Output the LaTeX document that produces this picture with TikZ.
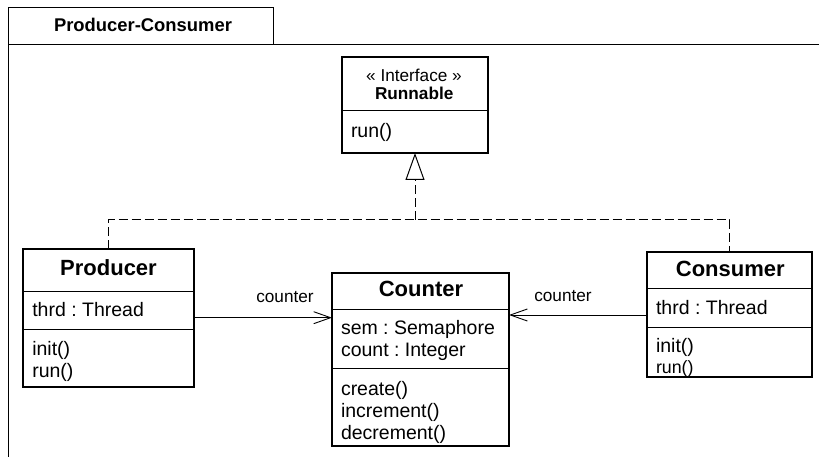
\documentclass[tikz,border=0pt]{standalone}
\usepackage{fontspec}
\setmainfont{Liberation Sans}
\usetikzlibrary{arrows.meta}
\frenchspacing
\tikzset{
  cls/.style={draw, line width=1.2pt, inner sep=0pt, outer sep=0pt},
  divider/.style={line width=1pt},
  frameline/.style={line width=1pt},
  txt/.style={inner sep=0pt, outer sep=0pt, anchor=base west, font=\fontsize{19.5}{22}\selectfont},
  ttl/.style={inner sep=0pt, outer sep=0pt, anchor=base, font=\fontsize{22}{26}\selectfont\bfseries},
  small/.style={inner sep=0pt, outer sep=0pt, font=\fontsize{17.2}{20}\selectfont},
  assoc/.style={line width=0.9pt, -{Straight Barb[length=17pt,width=12pt,line width=0.9pt]}},
  realize/.style={line width=1pt, dash pattern=on 9pt off 4pt},
}
\begin{document}
\begin{tikzpicture}[x=1pt,y=-1pt]
\useasboundingbox (0,0) rectangle (819,457);
% frame
\node[draw, line width=1pt, minimum width=265pt, minimum height=37pt, inner sep=0pt, outer sep=0pt] (tab) at (140.5,26.5) {};
\node[inner sep=0pt, anchor=base, font=\fontsize{18.4}{22}\selectfont\bfseries] (tabtxt) at (143,31.7) {Producer-Consumer};
\coordinate (frameR) at (819,45);
\coordinate (frameB) at (8,457);
\draw[frameline] (tab.south west) -- (frameB);
\draw[frameline] (tab.south east) -- (frameR);

% Runnable
\node[cls, minimum width=146pt, minimum height=96pt] (run) at (415,105) {};
\draw[divider] (run.west |- 0,111) -- (run.east |- 0,111);
\node[small, anchor=base] (runst) at (414,81.7) {« Interface »};
\node[small, anchor=base, font=\fontsize{17.2}{20}\selectfont\bfseries] (runname) at (414.2,100) {Runnable};
\node[txt] (runop) at (351,138) {run()};

% Producer
\node[cls, minimum width=171pt, minimum height=138pt] (prod) at (108.5,318) {};
\draw[divider] (prod.west |- 0,291) -- (prod.east |- 0,291);
\draw[divider] (prod.west |- 0,329) -- (prod.east |- 0,329);
\node[ttl] (prodname) at (108.5,275.7) {Producer};
\node[txt] (prodattr) at (32.3,316) {thrd : Thread};
\node[txt] (prodop1) at (32.3,355) {init()};
\node[txt] (prodop2) at (32.3,377) {run()};

% Counter
\node[cls, minimum width=177pt, minimum height=173pt] (cnt) at (420.5,359.5) {};
\draw[divider] (cnt.west |- 0,309) -- (cnt.east |- 0,309);
\draw[divider] (cnt.west |- 0,368) -- (cnt.east |- 0,368);
\node[ttl] (cntname) at (421,296.7) {Counter};
\node[txt] (cntattr1) at (341,334) {sem : Semaphore};
\node[txt] (cntattr2) at (341,356.7) {count : Integer};
\node[txt] (cntop1) at (341,395) {create()};
\node[txt] (cntop2) at (341,417.3) {increment()};
\node[txt] (cntop3) at (341,439.3) {decrement()};

% Consumer
\node[cls, minimum width=165pt, minimum height=125pt] (cons) at (729.5,314.5) {};
\draw[divider] (cons.west |- 0,288) -- (cons.east |- 0,288);
\draw[divider] (cons.west |- 0,327) -- (cons.east |- 0,327);
\node[ttl] (consname) at (730.3,276) {Consumer};
\node[txt] (consattr) at (656,314.3) {thrd : Thread};
\node[txt] (consop1) at (656,352) {init()};
\node[txt, font=\fontsize{17.8}{20}\selectfont] (consop2) at (656,373) {run()};

% realization
\coordinate (bus) at (0,220);
\draw[realize] (prod.north) -- (prod.north |- bus) -- (cons.north |- bus) -- (cons.north);
\draw[realize, -{Triangle[open, length=27pt, width=19pt, line width=1pt]}] (run.south |- bus) -- (run.south);

% associations
\coordinate (la) at (0,317.7);
\coordinate (ra) at (0,315);
\draw[assoc] (prod.east |- la) -- (cnt.west |- la);
\draw[assoc] (cons.west |- ra) -- (cnt.east |- ra);
\node[small, anchor=base west] (lbl1) at (256.3,302.7) {counter};
\node[small, anchor=base west] (lbl2) at (534.3,301.7) {counter};
\end{tikzpicture}
\end{document}
